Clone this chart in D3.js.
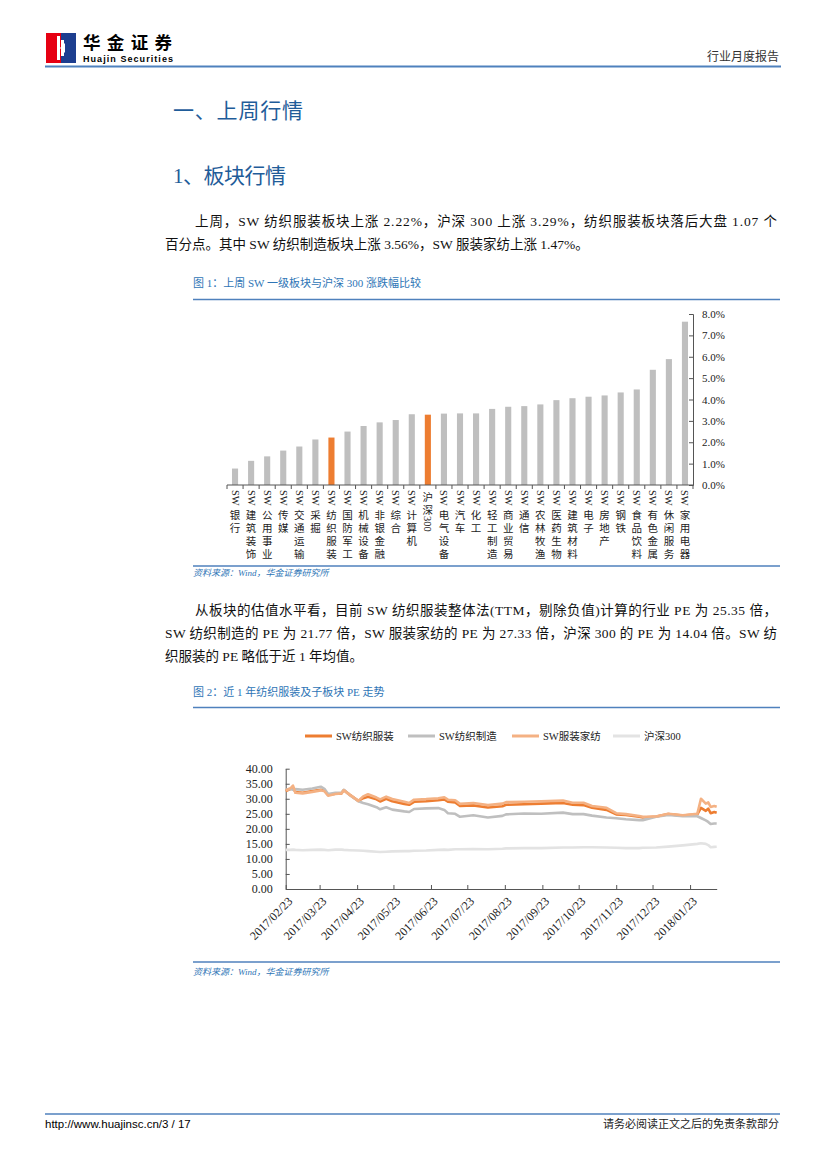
<!DOCTYPE html>
<html lang="zh">
<head>
<meta charset="UTF-8">
<title>行业月度报告</title>
<script src="https://d3js.org/d3.v7.min.js"></script>
<style>
  body { margin: 0; background: #fff; }
  svg text { font-family: "Liberation Serif", "Noto Sans CJK SC", serif; }
</style>
</head>
<body>
<svg id="page" width="827" height="1169"></svg>
<script>
// ---- data: figure 1 ----
const sectors = ["SW银行", "SW建筑装饰", "SW公用事业", "SW传媒", "SW交通运输", "SW采掘", "SW纺织服装",
  "SW国防军工", "SW机械设备", "SW非银金融", "SW综合", "SW计算机", "沪深300", "SW电气设备", "SW汽车",
  "SW化工", "SW轻工制造", "SW商业贸易", "SW通信", "SW农林牧渔", "SW医药生物", "SW建筑材料", "SW电子",
  "SW房地产", "SW钢铁", "SW食品饮料", "SW有色金属", "SW休闲服务", "SW家用电器"];
const weeklyChange = [0.0077, 0.0113, 0.0134, 0.0161, 0.0180, 0.0213, 0.0222, 0.0250, 0.0276, 0.0293,
  0.0304, 0.0331, 0.0329, 0.0334, 0.0335, 0.0335, 0.0356, 0.0366, 0.0369, 0.0377, 0.0397, 0.0406, 0.0413,
  0.0419, 0.0433, 0.0447, 0.0539, 0.0589, 0.0764];
const highlighted = ["SW纺织服装", "沪深300"];
const barTicks = [0, 0.01, 0.02, 0.03, 0.04, 0.05, 0.06, 0.07, 0.08];

// ---- data: figure 2 ----
const seriesNames = ["SW纺织服装", "SW纺织制造", "SW服装家纺", "沪深300"];
const seriesColors = ["#ED7D31", "#BFBFBF", "#F4B183", "#E3E3E3"];
const peDates = ["2017-02-23", "2017-02-27", "2017-03-01", "2017-03-03", "2017-03-09", "2017-03-17",
  "2017-03-24", "2017-03-27", "2017-03-30", "2017-04-05", "2017-04-10", "2017-04-12", "2017-04-17",
  "2017-04-24", "2017-04-28", "2017-05-02", "2017-05-09", "2017-05-12", "2017-05-17", "2017-05-22",
  "2017-06-01", "2017-06-05", "2017-06-09", "2017-06-19", "2017-06-29", "2017-07-04", "2017-07-07",
  "2017-07-13", "2017-07-17", "2017-07-28", "2017-08-09", "2017-08-21", "2017-08-24", "2017-09-08",
  "2017-09-22", "2017-10-10", "2017-10-18", "2017-10-27", "2017-11-03", "2017-11-15", "2017-11-23",
  "2017-12-01", "2017-12-12", "2017-12-15", "2017-12-26", "2018-01-05", "2018-01-17", "2018-01-29",
  "2018-02-01", "2018-02-05", "2018-02-07", "2018-02-09", "2018-02-12", "2018-02-14"];
const peTextile = [32.6, 33.2, 33.8, 32.2, 32.0, 32.6, 33.0, 32.7, 31.3, 31.7, 31.8, 32.9, 31.3, 29.3,
  30.2, 30.7, 29.8, 29.1, 30.0, 29.2, 28.3, 28.0, 29.0, 29.2, 29.5, 29.8, 29.0, 28.8, 27.6, 27.8, 27.1,
  27.5, 28.0, 28.2, 28.4, 28.6, 28.0, 27.9, 27.0, 26.3, 24.8, 24.6, 24.0, 23.8, 24.1, 24.9, 24.4, 24.8,
  27.0, 26.0, 26.7, 25.2, 25.6, 25.35];
const peManufacture = [33.0, 33.3, 33.0, 33.2, 33.0, 33.4, 34.0, 33.3, 31.6, 32.0, 32.0, 33.0, 31.2, 29.2,
  28.6, 28.2, 27.2, 26.5, 27.2, 26.4, 25.8, 25.6, 26.6, 26.8, 26.9, 26.3, 25.2, 25.0, 24.0, 24.5, 23.8,
  24.3, 24.8, 25.1, 25.0, 25.4, 24.9, 24.9, 24.4, 23.8, 23.5, 23.2, 22.9, 22.9, 24.0, 24.6, 24.2, 24.2,
  23.6, 22.8, 22.3, 21.6, 21.8, 21.77];
const peApparel = [32.8, 33.5, 34.4, 32.0, 31.8, 32.3, 32.8, 32.5, 31.0, 31.6, 31.8, 32.8, 31.3, 29.3,
  30.8, 31.5, 30.4, 29.8, 30.7, 29.9, 29.0, 28.6, 29.7, 29.9, 30.2, 30.5, 29.7, 29.5, 28.3, 28.6, 27.9,
  28.4, 28.9, 29.0, 29.2, 29.4, 28.7, 28.7, 27.6, 27.0, 25.2, 24.9, 24.3, 24.0, 24.1, 25.0, 24.5, 25.0,
  30.0, 28.4, 28.8, 27.3, 27.6, 27.33];
const peHS300 = [13.0, 13.0, 13.1, 13.0, 12.9, 13.0, 13.1, 13.0, 12.9, 13.1, 13.1, 13.0, 12.9, 12.8,
  12.7, 12.6, 12.4, 12.3, 12.4, 12.5, 12.6, 12.6, 12.7, 12.8, 13.0, 13.1, 13.0, 13.2, 13.2, 13.3, 13.2,
  13.4, 13.5, 13.6, 13.6, 13.8, 13.8, 13.9, 13.9, 13.8, 13.7, 13.6, 13.6, 13.7, 13.8, 14.1, 14.5, 15.0,
  15.2, 15.0, 14.6, 13.9, 14.0, 14.04];
const dateTicks = ["2017/02/23", "2017/03/23", "2017/04/23", "2017/05/23", "2017/06/23", "2017/07/23",
  "2017/08/23", "2017/09/23", "2017/10/23", "2017/11/23", "2017/12/23", "2018/01/23"];
const peTicks = [0, 5, 10, 15, 20, 25, 30, 35, 40];

// ---- page chrome ----
const svg = d3.select("#page");
const ruleColor = "#4F81BD";
const blue = "#2E75B6";

// logo
const logo = svg.append("g");
logo.append("rect").attr("x", 46).attr("y", 33).attr("width", 15).attr("height", 30).attr("fill", "#E60012");
logo.append("rect").attr("x", 61).attr("y", 33).attr("width", 15).attr("height", 30).attr("fill", "#1D3E8F");
logo.append("rect").attr("x", 57).attr("y", 36).attr("width", 3).attr("height", 24).attr("fill", "#fff");
logo.append("path").attr("d", "M60,48 L65,43 L65,53 Z").attr("fill", "#fff");
logo.append("rect").attr("x", 61).attr("y", 40).attr("width", 3).attr("height", 16).attr("fill", "#fff");
svg.append("text").attr("x", 83).attr("y", 49).attr("font-size", 17.5).attr("font-weight", "bold")
  .style("font-family", "'Noto Sans CJK SC'").attr("textLength", 89).text("华金证券");
svg.append("text").attr("x", 83).attr("y", 62).attr("font-size", 9).attr("font-weight", "bold")
  .style("font-family", "'Liberation Sans', Arial").attr("textLength", 90).text("Huajin Securities");
svg.append("text").attr("x", 779).attr("y", 61).attr("font-size", 12).attr("text-anchor", "end")
  .attr("fill", "#333").style("font-family", "'Noto Sans CJK SC'").text("行业月度报告");
svg.append("line").attr("x1", 45).attr("x2", 781).attr("y1", 66.5).attr("y2", 66.5)
  .attr("stroke", ruleColor).attr("stroke-width", 2);

// headings
svg.append("text").attr("x", 173).attr("y", 118).attr("font-size", 21).attr("fill", "#1F5C99")
  .attr("textLength", 130).text("一、上周行情");
svg.append("text").attr("x", 173).attr("y", 183).attr("font-size", 21).attr("fill", "#1F5C99")
  .attr("textLength", 113).text("1、板块行情");

// paragraphs
function para(x, y, str, len) {
  const t = svg.append("text").attr("x", x).attr("y", y).attr("font-size", 13.5).attr("fill", "#111").text(str);
  if (len) t.attr("textLength", len).attr("lengthAdjust", "spacing");
}
para(195, 226, "上周，SW 纺织服装板块上涨 2.22%，沪深 300 上涨 3.29%，纺织服装板块落后大盘 1.07 个", 582);
para(165, 249, "百分点。其中 SW 纺织制造板块上涨 3.56%，SW 服装家纺上涨 1.47%。");
para(195, 615, "从板块的估值水平看，目前 SW 纺织服装整体法(TTM，剔除负值)计算的行业 PE 为 25.35 倍，", 582);
para(165, 638, "SW 纺织制造的 PE 为 21.77 倍，SW 服装家纺的 PE 为 27.33 倍，沪深 300 的 PE 为 14.04 倍。SW 纺", 612);
para(165, 661, "织服装的 PE 略低于近 1 年均值。");

// captions, rules, sources
function caption(y, str) {
  svg.append("text").attr("x", 193).attr("y", y).attr("font-size", 11).attr("fill", blue).text(str);
}
function rule(y) {
  svg.append("line").attr("x1", 193).attr("x2", 780).attr("y1", y).attr("y2", y)
    .attr("stroke", ruleColor).attr("stroke-width", 1.3);
}
function source(y) {
  svg.append("text").attr("x", 193).attr("y", y).attr("font-size", 9).attr("fill", blue)
    .attr("font-style", "italic").text("资料来源：Wind，华金证券研究所");
}
caption(287, "图 1：上周 SW 一级板块与沪深 300 涨跌幅比较");
rule(299.5);
rule(566);
source(576);
caption(696, "图 2：近 1 年纺织服装及子板块 PE 走势");
rule(707.5);
rule(962);
source(975);

// footer
svg.append("line").attr("x1", 45).attr("x2", 780).attr("y1", 1114).attr("y2", 1114)
  .attr("stroke", ruleColor).attr("stroke-width", 1.5);
svg.append("text").attr("x", 45).attr("y", 1128).attr("font-size", 11.5)
  .style("font-family", "'Liberation Sans', Arial").text("http://www.huajinsc.cn/3 / 17");
svg.append("text").attr("x", 779).attr("y", 1128).attr("font-size", 11).attr("text-anchor", "end")
  .attr("fill", "#222").text("请务必阅读正文之后的免责条款部分");

// ---- figure 1: bar chart ----
const xBar = d3.scaleBand().domain(sectors).range([227, 693]).paddingInner(0.62).paddingOuter(0.31);
const yBar = d3.scaleLinear().domain([0, 0.08]).range([485, 314]);

const bars = svg.append("g");
bars.selectAll("rect").data(sectors).join("rect")
  .attr("x", d => xBar(d))
  .attr("width", xBar.bandwidth())
  .attr("y", (d, i) => yBar(weeklyChange[i]))
  .attr("height", (d, i) => yBar(0) - yBar(weeklyChange[i]))
  .attr("fill", d => highlighted.includes(d) ? "#ED7D31" : "#BFBFBF");

const yBarAxis = svg.append("g").attr("transform", "translate(693,0)")
  .call(d3.axisRight(yBar).tickValues(barTicks).tickFormat(d3.format(".1%")).tickSizeInner(-4).tickSizeOuter(-4).tickPadding(9));
yBarAxis.selectAll("text").attr("font-size", 11).attr("fill", "#222")
  .style("font-family", "'Liberation Serif'");
yBarAxis.selectAll("line, path").attr("stroke", "#555");

// category axis with boundary ticks
const xBarAxis = svg.append("g");
xBarAxis.append("line").attr("x1", xBar.range()[0]).attr("x2", xBar.range()[1])
  .attr("y1", yBar(0)).attr("y2", yBar(0)).attr("stroke", "#555");
xBarAxis.selectAll("line.tick").data(d3.range(sectors.length + 1)).join("line")
  .attr("class", "tick")
  .attr("x1", i => xBar.range()[0] + i * xBar.step()).attr("x2", i => xBar.range()[0] + i * xBar.step())
  .attr("y1", yBar(0)).attr("y2", yBar(0) + 4).attr("stroke", "#555");

// vertical labels: latin runs turned sideways, CJK characters stacked upright
const labelSize = 10.5, cjkStep = 13;
xBarAxis.selectAll("g.label").data(sectors).join("g")
  .attr("class", "label")
  .each(function (d) {
    const g = d3.select(this);
    const cx = xBar(d) + xBar.bandwidth() / 2;
    let y = yBar(0) + 5;
    const runs = d.match(/[A-Za-z0-9]+|[^A-Za-z0-9]/g);
    runs.forEach(run => {
      if (/^[A-Za-z0-9]+$/.test(run)) {
        const t = g.append("text")
          .attr("x", cx).attr("y", y)
          .attr("transform", `rotate(90,${cx},${y})`)
          .attr("dominant-baseline", "central")
          .attr("font-size", labelSize).attr("fill", "#222")
          .style("font-family", "'Liberation Serif'")
          .text(run);
        y += t.node().getComputedTextLength() + 2;
      } else {
        g.append("text")
          .attr("x", cx).attr("y", y + cjkStep / 2)
          .attr("text-anchor", "middle").attr("dominant-baseline", "central")
          .attr("font-size", labelSize).attr("fill", "#222")
          .style("font-family", "'Noto Sans CJK SC'")
          .text(run);
        y += cjkStep;
      }
    });
  });

// ---- figure 2: line chart ----
const parseDay = d3.timeParse("%Y-%m-%d");
const parseTick = d3.timeParse("%Y/%m/%d");
const dates = peDates.map(parseDay);
const seriesValues = [peTextile, peManufacture, peApparel, peHS300];

const xLine = d3.scaleTime().domain([parseDay("2017-02-23"), parseDay("2018-02-14")]).range([285.7, 716.7]);
const yLine = d3.scaleLinear().domain([0, 40]).range([889, 768.7]);

const yLineAxis = svg.append("g").attr("transform", "translate(285.7,0)")
  .call(d3.axisLeft(yLine).tickValues(peTicks).tickFormat(d3.format(".2f")).tickSizeInner(-4).tickSizeOuter(0).tickPadding(13));
yLineAxis.selectAll("text").attr("font-size", 12).attr("fill", "#222");
yLineAxis.selectAll("line, path").attr("stroke", "#555");

const xLineAxis = svg.append("g").attr("transform", "translate(0,889)")
  .call(d3.axisBottom(xLine).tickValues(dateTicks.map(parseTick)).tickFormat(d3.timeFormat("%Y/%m/%d"))
    .tickSizeInner(-4).tickSizeOuter(0));
xLineAxis.selectAll("line, path").attr("stroke", "#555");
xLineAxis.selectAll("text")
  .attr("font-size", 12)
  .attr("fill", "#222")
  .attr("text-anchor", "end")
  .attr("dy", 0)
  .attr("transform", "translate(5,11) rotate(-45)");

const line = d3.line().x((d, i) => xLine(dates[i])).y(d => yLine(d));
svg.append("g").selectAll("path").data(seriesValues).join("path")
  .attr("d", d => line(d))
  .attr("fill", "none")
  .attr("stroke", (d, i) => seriesColors[i])
  .attr("stroke-width", 2.6)
  .attr("stroke-linejoin", "round");

// legend
const legendX = [305, 408, 512, 613];
const legend = svg.append("g").selectAll("g").data(seriesNames).join("g")
  .attr("transform", (d, i) => `translate(${legendX[i]},736)`);
legend.append("line").attr("x1", 0).attr("x2", 27).attr("stroke", (d, i) => seriesColors[i]).attr("stroke-width", 3);
legend.append("text").attr("x", 31).attr("y", 4).attr("font-size", 10.5).attr("fill", "#222").text(d => d);
</script>
</body>
</html>
